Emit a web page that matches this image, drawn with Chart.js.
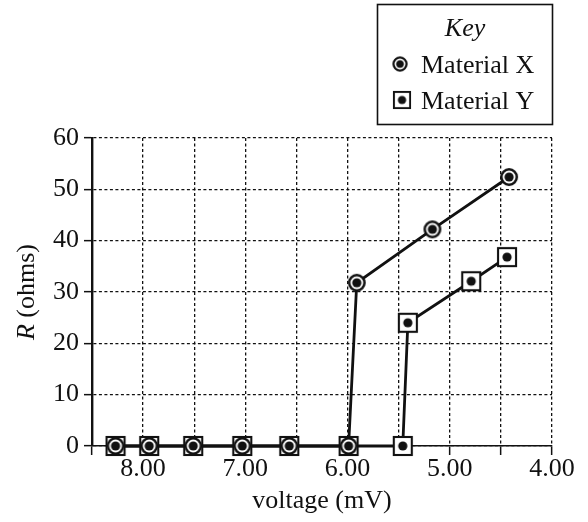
<!DOCTYPE html>
<html>
<head>
<meta charset="utf-8">
<script src="https://cdn.jsdelivr.net/npm/chart.js@4.4.1/dist/chart.umd.min.js"></script>
<style>
  html, body { margin: 0; padding: 0; background: #ffffff; }
  canvas { display: block; }
</style>
</head>
<body>
<canvas id="chart" width="588" height="522"></canvas>
<script>
// Resistance measurements against applied voltage
const seriesNames = ['Material X', 'Material Y'];
const voltageX = [8.27, 7.94, 7.51, 7.03, 6.57, 5.99, 5.91, 5.17, 4.42];
const resistanceX = [0, 0, 0, 0, 0, 0, 31.8, 42.2, 52.4];
const voltageY = [8.27, 7.94, 7.51, 7.03, 6.57, 5.99, 5.46, 5.41, 4.79, 4.44];
const resistanceY = [0, 0, 0, 0, 0, 0, 0, 24.0, 32.1, 36.8];

// Axis ticks and labels
const voltageTickLabels = ['8.00', '7.00', '6.00', '5.00', '4.00'];
const resistanceTickLabels = ['0', '10', '20', '30', '40', '50', '60'];
const xTitle = 'voltage (mV)';
const yTitleSymbol = 'R';
const yTitleUnit = ' (ohms)';
const keyTitle = 'Key';

const SERIF = "'Liberation Serif', 'Times New Roman', 'DejaVu Serif', serif";
const INK = '#111111';

// Marker images: ringed dot and boxed dot
function circleMarker() {
  const c = document.createElement('canvas');
  c.width = c.height = 22;
  const g = c.getContext('2d');
  g.beginPath();
  g.arc(11, 11, 7.7, 0, Math.PI * 2);
  g.fillStyle = '#ffffff';
  g.fill();
  g.lineWidth = 2.5;
  g.strokeStyle = INK;
  g.stroke();
  g.beginPath();
  g.arc(11, 11, 4.6, 0, Math.PI * 2);
  g.fillStyle = INK;
  g.fill();
  return c;
}
function squareMarker() {
  const c = document.createElement('canvas');
  c.width = c.height = 22;
  const g = c.getContext('2d');
  g.fillStyle = '#ffffff';
  g.fillRect(2, 2, 18, 18);
  g.lineWidth = 2.1;
  g.strokeStyle = INK;
  g.strokeRect(2, 2, 18, 18);
  g.beginPath();
  g.arc(11, 11, 4.6, 0, Math.PI * 2);
  g.fillStyle = INK;
  g.fill();
  return c;
}
const markerX = circleMarker();
const markerY = squareMarker();

const pointsX = voltageX.map((v, i) => ({ x: v, y: resistanceX[i] }));
const pointsY = voltageY.map((v, i) => ({ x: v, y: resistanceY[i] }));

// Vertical axis title with an italic quantity symbol
const yTitlePlugin = {
  id: 'yTitle',
  afterDraw(chart) {
    const { ctx, chartArea } = chart;
    const cy = (chartArea.top + chartArea.bottom) / 2;
    ctx.save();
    ctx.translate(27, cy);
    ctx.rotate(-Math.PI / 2);
    ctx.fillStyle = INK;
    ctx.textBaseline = 'middle';
    ctx.textAlign = 'left';
    const fItalic = 'italic 26px ' + SERIF;
    const fNormal = '26px ' + SERIF;
    ctx.font = fItalic;
    const w1 = ctx.measureText(yTitleSymbol).width;
    ctx.font = fNormal;
    const w2 = ctx.measureText(yTitleUnit).width;
    const start = -(w1 + w2) / 2;
    ctx.font = fItalic;
    ctx.fillText(yTitleSymbol, start, 0);
    ctx.font = fNormal;
    ctx.fillText(yTitleUnit, start + w1, 0);
    ctx.restore();
  }
};

// Boxed key in the top right corner
const keyPlugin = {
  id: 'keyBox',
  afterDraw(chart) {
    const { ctx } = chart;
    ctx.save();
    ctx.lineWidth = 1.6;
    ctx.strokeStyle = INK;
    ctx.strokeRect(377.5, 4.5, 175, 120);
    ctx.fillStyle = INK;
    ctx.textBaseline = 'alphabetic';
    ctx.font = 'italic 26px ' + SERIF;
    ctx.textAlign = 'center';
    ctx.fillText(keyTitle, 465, 36);
    ctx.textAlign = 'left';
    ctx.font = '26px ' + SERIF;
    const markers = [markerX, markerY];
    const rows = [
      { mx: 400, my: 64, s: 0.85, ty: 73 },
      { mx: 402, my: 100, s: 0.9, ty: 109 }
    ];
    chart.data.datasets.forEach((ds, i) => {
      const r = rows[i];
      const m = markers[i];
      const w = m.width * r.s;
      ctx.drawImage(m, r.mx - w / 2, r.my - w / 2, w, w);
      ctx.fillText(ds.label, 421, r.ty);
    });
    ctx.restore();
  }
};

const isNear = (a, b) => Math.abs(a - b) < 1e-6;

new Chart(document.getElementById('chart'), {
  type: 'scatter',
  data: {
    datasets: [
      {
        label: seriesNames[0],
        data: pointsX,
        showLine: true,
        borderColor: INK,
        borderWidth: 2.8,
        pointStyle: markerX,
        pointRadius: 9,
        clip: false
      },
      {
        label: seriesNames[1],
        data: pointsY,
        showLine: true,
        borderColor: INK,
        borderWidth: 2.8,
        pointStyle: markerY,
        pointRadius: 10,
        clip: false
      }
    ]
  },
  options: {
    responsive: false,
    animation: false,
    events: [],
    layout: { padding: { left: 0, right: 36, top: 138, bottom: 0 } },
    plugins: {
      legend: { display: false },
      tooltip: { enabled: false }
    },
    scales: {
      x: {
        type: 'linear',
        reverse: true,
        min: 4,
        max: 8.5,
        afterFit(scale) { scale.height = 76; },
        ticks: {
          stepSize: 0.5,
          autoSkip: false,
          maxRotation: 0,
          padding: -1,
          color: INK,
          font: { family: SERIF, size: 26 },
          callback(value) {
            const lbl = voltageTickLabels.find(t => isNear(parseFloat(t), value));
            return lbl === undefined ? '' : lbl;
          }
        },
        grid: {
          color: '#111111',
          lineWidth: 1.3,
          tickColor: INK,
          tickLength: 9,
          tickWidth: 1.5
        },
        border: { display: true, color: INK, width: 1.5, dash: [3, 2.5] },
        title: {
          display: true,
          text: xTitle,
          color: INK,
          font: { family: SERIF, size: 26 },
          padding: { top: 0, bottom: 5 }
        }
      },
      y: {
        type: 'linear',
        min: 0,
        max: 60,
        afterFit(scale) { scale.width = 92; },
        ticks: {
          stepSize: 10,
          padding: 5,
          color: INK,
          font: { family: SERIF, size: 26 },
          callback(value) {
            const lbl = resistanceTickLabels.find(t => isNear(parseFloat(t), value));
            return lbl === undefined ? '' : lbl;
          }
        },
        grid: {
          color: '#111111',
          lineWidth: 1.3,
          tickColor: INK,
          tickLength: 8,
          tickWidth: 1.5
        },
        border: { display: true, color: INK, width: 2.4, dash: [3, 2.5] }
      }
    }
  },
  plugins: [yTitlePlugin, keyPlugin]
});
</script>
</body>
</html>
